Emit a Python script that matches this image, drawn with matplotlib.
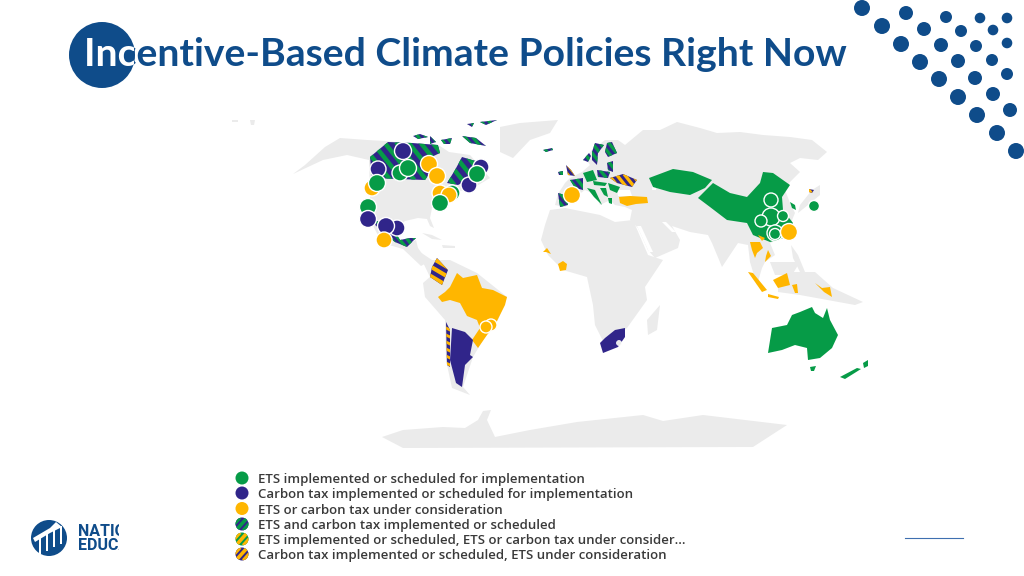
import matplotlib
matplotlib.use("Agg")
import matplotlib.pyplot as plt
import numpy as np
from matplotlib.patches import Circle, Polygon, Rectangle

GREEN = "#069B47"
PURPLE = "#30258A"
GOLD = "#FFB600"
GREY = "#EBEBEB"
BLUE = "#0F4C8A"

title = "Incentive-Based Climate Policies Right Now"
legend_labels = [
    "ETS implemented or scheduled for implementation",
    "Carbon tax implemented or scheduled for implementation",
    "ETS or carbon tax under consideration",
    "ETS and carbon tax implemented or scheduled",
    "ETS implemented or scheduled, ETS or carbon tax under consider...",
    "Carbon tax implemented or scheduled, ETS under consideration",
]
legend_colors = [(GREEN, None), (PURPLE, None), (GOLD, None), (PURPLE, GREEN), (GREEN, GOLD), (PURPLE, GOLD)]
legend_y = [478, 493, 508.5, 524, 539, 554]

# land outlines in pixels
north_america = [(293,174),(305,165),(325,147),(340,138),(367,140),(385,141),(440,146),(449,152),(470,155),
                 (490,178),(470,190),(445,192),(436,200),(432,208),(430,218),(434,228),(430,226),(427,219),(418,218),
                 (405,221),(400,225),(398,236),(402,244),(412,242),(416,240),(418,248),(428,262),(421,266),(403,249),
                 (382,243),(370,220),(370,195),(369,160),(347,155),(323,160)]
greenland = [(500,127),(520,123),(558,120),(550,133),(530,140),(513,158),(500,152)]
south_america = [(417,250),(432,260),(450,260),(477,273),(507,297),(498,320),(483,340),(473,357),(463,387),
                 (470,395),(452,388),(446,360),(445,320),(425,297),(423,283),(430,277)]
eurasia = [(558,194),(565,183),(570,178),(582,172),(590,165),(585,158),(592,150),(605,140),(618,140),(625,145),
           (643,130),(660,130),(677,122),(700,128),(717,133),(740,132),(763,135),(790,137),(812,140),(827,152),
           (818,160),(800,158),(790,163),(800,172),(790,182),(785,190),(790,203),(795,213),(790,225),(785,237),
           (770,243),(775,255),(765,262),(762,268),(757,285),(750,262),(748,245),(738,243),(722,267),(712,243),
           (708,235),(690,232),(672,226),(680,240),(678,248),(655,258),(648,250),(638,228),(630,220),(632,210),
           (625,207),(615,205),(610,200),(600,205),(596,195),(585,190),(575,197),(565,207),(555,205)]
africa = [(550,210),(565,208),(585,212),(600,215),(615,222),(633,220),(648,255),(663,260),(645,287),(647,300),
          (627,328),(605,345),(595,325),(593,305),(587,277),(563,270),(548,255),(541,240),(545,225)]
madagascar = [(660,305),(657,330),(648,335),(647,320)]
antarctica = [(382,437),(403,430),(443,427),(465,428),(478,420),(483,411),(491,410),(487,420),(495,437),(530,430),
              (577,422),(643,415),(663,421),(703,415),(787,425),(753,447),(403,448)]
grey_islands = [[(800,205),(812,190),(820,185),(820,195),(808,205),(798,213)],
                [(770,262),(800,262),(792,275),(775,275)],
                [(778,282),(790,272),(815,272),(833,288),(863,302),(855,305),(800,295),(778,292)],
                [(791,245),(798,255),(805,272),(800,272),(793,258)],
                [(422,233),(432,235),(442,240),(432,239)],
                [(442,245),(455,246),(455,248),(443,248)],
                [(232,120),(238,120),(238,122),(232,122)],
                [(250,120),(255,120),(254,125),(251,125)]]
white_seas = [[(617,190),(630,190),(632,196),(618,196)],
              [(637,226),(641,226),(653,252),(649,252)],
              [(662,222),(666,222),(676,232),(672,232)],
              [(653,178),(656,178),(656,190),(652,190)]]

# country shapes
canada = [(370,157),(388,142),(412,143),(438,145),(440,153),(425,160),(432,170),(425,180),(372,178)]
canada_east = [(447,183),(455,170),(462,157),(472,160),(485,163),(487,170),(468,180),(458,185)]
mexico = [(372,222),(386,235),(395,242),(407,247),(411,243),(416,238),(410,238),(400,240),(395,232),(388,220)]
arctic = [[(413,136),(420,134),(428,137),(418,139)],[(430,136),(436,142),(430,144)],[(462,136),(476,138),(486,146),(470,143)],
          [(467,124),(474,123),(472,127)],[(480,122),(497,120),(486,125)],[(441,140),(452,138),(450,144),(444,144)]]
iceland = [(543,150),(552,148),(553,150),(546,152)]
colombia = [(437,258),(448,270),(442,285),(430,277),(432,267)]
brazil = [(438,297),(445,292),(450,287),(457,273),(463,278),(477,275),(482,288),(493,290),(507,297),(505,305),
          (500,315),(495,325),(487,335),(478,348),(472,340),(480,328),(477,320),(467,316),(460,303),(450,300),(442,302)]
argentina = [(452,328),(465,332),(473,340),(470,355),(473,357),(465,365),(462,387),(456,383),(450,360)]
chile = [(446,322),(450,330),(450,367),(447,365)]
south_africa = [(600,343),(605,338),(615,330),(625,328),(625,337),(618,347),(603,353)]
kazakhstan = [(649,178),(673,169),(693,172),(712,180),(705,188),(690,195),(670,192),(653,187)]
china = [(698,198),(713,183),(730,193),(747,197),(760,183),(763,172),(773,173),(790,185),(782,197),
         (783,210),(793,223),(787,237),(770,242),(753,235),(747,223),(727,220),(710,207)]
turkey = [(619,197),(630,196),(647,197),(648,203),(636,204),(627,206),(620,203)]
australia = [(772,328),(768,353),(782,350),(795,345),(807,348),(808,360),(820,358),(832,348),(838,335),(830,320),
             (827,308),(823,318),(815,313),(812,307),(800,312),(792,315),(787,325)]
new_zealand = [(840,377),(857,368),(861,369),(845,379)]
north_island = [(863,363),(868,360),(868,366),(864,368)]
tasmania = [(810,367),(816,366),(814,371),(811,371)]
korea = [(790,202),(795,205),(796,210),(792,208)]
senegal = [(543,252),(547,248),(551,254),(546,252)]
ghana = [(558,264),(563,261),(567,264),(566,270),(560,271)]
laos = [(758,235),(765,238),(762,241)]
thailand = [(750,242),(760,242),(763,248),(757,253),(755,258),(752,250)]
vietnam = [(768,250),(771,256),(765,262),(766,256)]
sumatra = [(748,272),(753,273),(767,290),(762,292)]
java = [(768,294),(779,297),(778,299),(768,297)]
borneo = [(773,280),(787,273),(790,285),(778,288)]
sulawesi = [(792,285),(797,284),(798,293),(795,293)]
papua = [(815,283),(822,288),(830,287),(832,297),(824,292)]
norway = [(583,160),(589,153),(591,156),(588,162)]
sweden = [(595,143),(604,145),(598,153),(597,165),(592,160),(592,152)]
finland = [(607,143),(612,142),(617,153),(608,157),(605,152)]
baltics = [(607,163),(613,161),(613,172),(608,170)]
uk = [(566,165),(571,170),(575,176),(568,175)]
ireland = [(558,172),(563,171),(563,175),(559,175)]
france = [(570,180),(583,178),(583,190),(575,188)]
spain = [(558,193),(565,195),(568,205),(560,207)]
germany = [(583,173),(593,170),(597,180),(587,182)]
poland = [(597,170),(610,172),(608,178),(598,177)]
alps = [(593,181),(607,183),(605,186),(594,185)]
italy = [(587,188),(595,190),(602,205),(594,197)]
balkans = [(600,188),(606,188),(608,197),(604,195)]
romania = [(608,183),(620,187),(617,193),(610,190)]
ukraine = [(610,178),(623,174),(637,180),(632,187),(617,183)]
greece = [(608,198),(612,198),(612,204),(609,203)]
japan_north = [(809,189),(814,190),(812,193),(809,192)]

big_stripes = [(canada, PURPLE, GREEN), (canada_east, PURPLE, GREEN)]
small_stripes = [(mexico, PURPLE, GREEN), (norway, PURPLE, GREEN), (sweden, PURPLE, GREEN),
                 (finland, PURPLE, GREEN), (baltics, PURPLE, GREEN), (uk, PURPLE, GOLD), (ireland, PURPLE, GREEN),
                 (france, PURPLE, GREEN), (spain, PURPLE, GREEN), (poland, PURPLE, GREEN), (ukraine, PURPLE, GOLD),
                 (japan_north, PURPLE, GOLD), (iceland, PURPLE, GREEN)]
small_stripes += [(isl, PURPLE, GREEN) for isl in arctic]

solid_shapes = [(brazil, GOLD), (argentina, PURPLE), (south_africa, PURPLE), (kazakhstan, GREEN), (china, GREEN),
                (turkey, GOLD), (australia, GREEN), (new_zealand, GREEN), (north_island, GREEN), (tasmania, GREEN),
                (korea, GREEN), (senegal, GOLD), (ghana, GOLD), (laos, GOLD), (thailand, GOLD), (vietnam, GOLD),
                (sumatra, GOLD), (java, GOLD), (borneo, GOLD), (sulawesi, GOLD), (papua, GOLD), (germany, GREEN),
                (alps, GREEN), (italy, GREEN), (balkans, GREEN), (romania, GREEN), (greece, GREEN)]

# policy bubbles, in drawing order
bubble_x = [403, 378, 400, 408, 429, 437, 372, 377, 481, 469, 477, 452, 440, 449, 440, 368, 368, 397, 386, 384,
            572, 771, 771, 761, 783, 775, 775, 789, 814, 491, 486]
bubble_y = [151, 169, 173, 168, 164, 176, 188, 183, 167, 185, 174, 193, 193, 195, 203, 207, 219, 228, 226, 240,
            195, 200, 217, 221, 216, 233, 234, 232, 206, 325, 327]
bubble_r = [8.5, 8, 8, 8.5, 8.5, 8.5, 8, 8.5, 8, 8, 8.5, 8, 8, 8, 8.5, 8.5, 8.5, 8, 8.5, 8,
            8.5, 7, 9, 6, 5.5, 8, 5.5, 8.5, 5.5, 6, 6]
bubble_c = [PURPLE, PURPLE, GREEN, GREEN, GOLD, GOLD, GOLD, GREEN, PURPLE, PURPLE, GREEN, GREEN, GOLD, GOLD, GREEN,
            GREEN, PURPLE, PURPLE, PURPLE, GOLD, GOLD, GREEN, GREEN, GREEN, GREEN, GREEN, GREEN, GOLD, GREEN, GOLD, GOLD]

# decorative dots, top right
dots_x = [862, 882, 901, 920, 939, 958, 977, 997, 1016, 906, 924, 941, 958, 975, 993, 1010, 946, 961, 976, 992, 1007,
          980, 993, 1007, 1007]
dots_y = [8, 26, 44, 62, 79, 97, 115, 133, 151, 13, 29, 45, 61, 78, 94, 110, 17, 31, 46, 60, 74, 18, 30, 43, 18]
dots_r = [8] * 9 + [7] * 7 + [6] * 5 + [5.3] * 4

fig = plt.figure(figsize=(10.24, 5.76), dpi=100)
ax = fig.add_axes([0, 0, 1, 1])
ax.set_xlim(0, 1024)
ax.set_ylim(576, 0)
ax.axis("off")


def striped(patch, stripe, pitch, width, slant, z):
    # lay a base patch and then parallel lines clipped to it
    ax.add_patch(patch)
    x0, y0, x1, y1 = patch.get_path().get_extents().extents
    if isinstance(patch, Circle):
        cx, cy = patch.center
        r = patch.radius
        x0, x1, y0, y1 = cx - r, cx + r, cy - r, cy + r
    h = y1 - y0
    starts = np.arange(np.floor((x0 - abs(slant) * h - 2) / pitch), np.ceil((x1 + abs(slant) * h + 2) / pitch) + 1) * pitch
    for s in starts:
        ln, = ax.plot([s, s + slant * h], [y0, y1], color=stripe, lw=width, solid_capstyle="butt", zorder=z + 0.1)
        ln.set_clip_path(patch)


for shape in [north_america, greenland, south_america, eurasia, africa, madagascar, antarctica] + grey_islands:
    ax.add_patch(Polygon(shape, closed=True, fc=GREY, ec="none", zorder=1))
for shape in white_seas:
    ax.add_patch(Polygon(shape, closed=True, fc="white", ec="none", zorder=1.5))

for shape, col in solid_shapes:
    ax.add_patch(Polygon(shape, closed=True, fc=col, ec="none", zorder=2))
for shape, base, stripe in big_stripes:
    striped(Polygon(shape, closed=True, fc=base, ec="none", zorder=2), stripe, 12, 3.2, 0.8, 2)
for shape, base, stripe in small_stripes:
    striped(Polygon(shape, closed=True, fc=base, ec="none", zorder=2), stripe, 8, 2.4, 0.8, 2)
striped(Polygon(colombia, closed=True, fc=PURPLE, ec="none", zorder=2), GOLD, 16, 3, 1.7, 2)
striped(Polygon(chile, closed=True, fc=PURPLE, ec="none", zorder=2), GOLD, 14, 2, 2.0, 2)

ax.add_patch(Circle((619, 343), 2.5, fc=GREY, ec="white", lw=0.5, zorder=2.5))

for i in range(len(bubble_x)):
    ax.add_patch(Circle((bubble_x[i], bubble_y[i]), bubble_r[i], fc=bubble_c[i], ec="white", lw=1, zorder=3 + i * 0.01))

for i in range(len(dots_x)):
    ax.add_patch(Circle((dots_x[i], dots_y[i]), dots_r[i], fc=BLUE, ec="none", zorder=3))

# title, white inside the round badge (agg clips text to boxes only)
ax.add_patch(Circle((102, 55), 33, fc=BLUE, ec="none", zorder=4))
ax.text(84, 66.5, title, color=BLUE, fontsize=28.2, family="Lato", weight="bold", va="baseline", zorder=5)
white_title = ax.text(84, 66.5, title, color="white", fontsize=28.2, family="Lato", weight="bold", va="baseline", zorder=6)
white_title.set_clip_on(True)
white_title.set_clip_path(Rectangle((70, 25), 63.5, 60, transform=ax.transData))

# legend
for i in range(len(legend_labels)):
    base, stripe = legend_colors[i]
    if stripe is None:
        ax.add_patch(Circle((242, legend_y[i]), 6.5, fc=base, ec="none", zorder=3))
    else:
        striped(Circle((242, legend_y[i]), 6.5, fc=base, ec="none", zorder=3), stripe, 7.5, 2.6, -0.9, 3)
    ax.text(258, legend_y[i] + 1.5, legend_labels[i], color="#3A3A3A", fontsize=9.5, family="Open Sans", weight=600,
            va="center", zorder=3)

# logo at bottom left, cut off at x=119
ax.add_patch(Circle((49, 538), 18, fc=BLUE, ec="none", zorder=3))
for lx in [39, 46, 53, 60]:
    ax.add_patch(Rectangle((lx, 536 - (lx - 39) * 0.5), 2.2, 18, fc="white", ec="none", zorder=4))
ax.add_patch(Polygon([(33, 538), (50, 528), (56, 522), (62, 527), (50, 533), (35, 542)], closed=True, fc="white", ec="none", zorder=4))
clip = Rectangle((70, 515), 49, 50, transform=ax.transData)
for label, ly in [("NATIONAL", 531), ("EDUCATION", 546)]:
    t = ax.text(78, ly, label, color=BLUE, fontsize=11.5, family="Roboto", weight="bold", va="center", zorder=4)
    t.set_clip_on(True)
    t.set_clip_path(clip)

ax.plot([905, 963], [538, 538], color="#3F6FB0", lw=0.8, zorder=3)

fig.savefig("out.png", dpi=100)
